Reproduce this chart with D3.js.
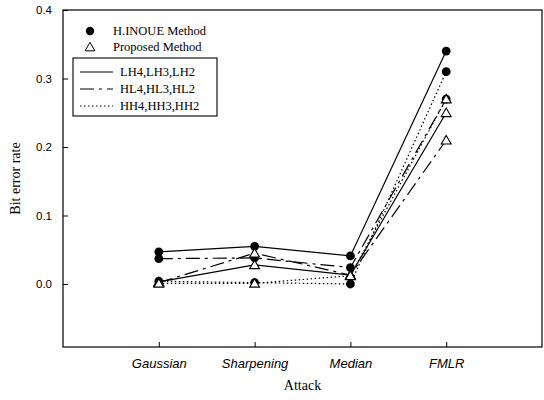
<!DOCTYPE html>
<html>
<head>
<meta charset="utf-8">
<script src="https://cdn.jsdelivr.net/npm/d3@7"></script>
<style>
  body { margin: 0; background: #fff; }
  svg { display: block; }
</style>
</head>
<body>
<div id="chart"></div>
<script>
// categories and tick labels
const attacks = ["Gaussian", "Sharpening", "Median", "FMLR"];
const yTicks = [0.0, 0.1, 0.2, 0.3, 0.4];

// bit error rates
const inoueLH = [0.047, 0.055, 0.041, 0.34];
const inoueHL = [0.037, 0.038, 0.024, 0.27];
const inoueHH = [0.004, 0.002, 0.000, 0.31];
const propLH = [0.003, 0.028, 0.013, 0.25];
const propHL = [0.002, 0.045, 0.013, 0.21];
const propHH = [0.001, 0.001, 0.012, 0.27];

const series = [
    { values: inoueLH, band: "LH", method: "inoue" },
    { values: inoueHL, band: "HL", method: "inoue" },
    { values: inoueHH, band: "HH", method: "inoue" },
    { values: propLH, band: "LH", method: "proposed" },
    { values: propHL, band: "HL", method: "proposed" },
    { values: propHH, band: "HH", method: "proposed" }
];

const dashes = { LH: null, HL: "14,5,3,5", HH: "1.5,2.5" };

const width = 544, height = 400;
const margin = { top: 10, right: 2, bottom: 53, left: 63 };

const svg = d3.select("#chart")
    .append("svg")
        .attr("width", width)
        .attr("height", height);

const x = d3.scalePoint()
    .domain(attacks)
    .range([margin.left, width - margin.right])
    .padding(1);

const y = d3.scaleLinear()
    .domain([-0.092, 0.4])
    .range([height - margin.bottom, margin.top]);

// frame
svg.append("rect")
    .attr("x", margin.left)
    .attr("y", margin.top)
    .attr("width", width - margin.right - margin.left)
    .attr("height", height - margin.bottom - margin.top)
    .attr("fill", "none")
    .attr("stroke", "#000")
    .attr("stroke-width", 1.2);

// y axis, ticks pointing inward
svg.append("g")
    .attr("transform", `translate(${margin.left},0)`)
    .call(d3.axisLeft(y).tickValues(yTicks).tickSize(-5).tickPadding(11).tickFormat(d3.format(".1f")))
    .call(g => g.select(".domain").remove())
    .call(g => g.selectAll("text")
        .attr("font-family", "Liberation Sans, Arial, sans-serif")
        .attr("font-size", 11.5)
        .attr("fill", "#000"));

// x axis
svg.append("g")
    .attr("transform", `translate(0,${height - margin.bottom})`)
    .call(d3.axisBottom(x).tickSize(-5).tickPadding(12))
    .call(g => g.select(".domain").remove())
    .call(g => g.selectAll("text")
        .attr("font-family", "Liberation Sans, Arial, sans-serif")
        .attr("font-style", "italic")
        .attr("font-size", 13)
        .attr("fill", "#000"));

// axis titles
svg.append("text")
    .attr("transform", `translate(20,${(margin.top + height - margin.bottom) / 2}) rotate(-90)`)
    .attr("text-anchor", "middle")
    .attr("font-family", "Liberation Serif, Times New Roman, serif")
    .attr("font-size", 14)
    .text("Bit error rate");

svg.append("text")
    .attr("x", (margin.left + width - margin.right) / 2)
    .attr("y", 390)
    .attr("text-anchor", "middle")
    .attr("font-family", "Liberation Serif, Times New Roman, serif")
    .attr("font-size", 14)
    .text("Attack");

// lines
const line = d3.line()
    .x((d, i) => x(attacks[i]))
    .y(d => y(d));

svg.selectAll(".series")
    .data(series)
    .enter()
    .append("path")
        .attr("class", "series")
        .attr("d", d => line(d.values))
        .attr("fill", "none")
        .attr("stroke", "#000")
        .attr("stroke-width", 1.2)
        .attr("stroke-dasharray", d => dashes[d.band]);

// markers
const triangle = d3.symbol().type(d3.symbolTriangle).size(42);

series.forEach(s => {
    const g = svg.append("g");
    s.values.forEach((v, i) => {
        if (s.method === "inoue") {
            g.append("circle")
                .attr("cx", x(attacks[i]))
                .attr("cy", y(v))
                .attr("r", 4.4)
                .attr("fill", "#000");
        } else {
            g.append("path")
                .attr("d", triangle)
                .attr("transform", `translate(${x(attacks[i])},${y(v) + 1})`)
                .attr("fill", "#fff")
                .attr("stroke", "#000")
                .attr("stroke-width", 1.1);
        }
    });
});

// legend: markers
const legFont = "Liberation Serif, Times New Roman, serif";
svg.append("circle")
    .attr("cx", 90).attr("cy", 31).attr("r", 4.2)
    .attr("fill", "#000");
svg.append("text")
    .attr("x", 113).attr("y", 35)
    .attr("font-family", legFont).attr("font-size", 12.5)
    .text("H.INOUE Method");
svg.append("path")
    .attr("d", triangle)
    .attr("transform", "translate(90,48)")
    .attr("fill", "#fff").attr("stroke", "#000").attr("stroke-width", 1);
svg.append("text")
    .attr("x", 113).attr("y", 51)
    .attr("font-family", legFont).attr("font-size", 12.5)
    .text("Proposed Method");

// legend: line styles
const legendLines = [
    { band: "LH", label: "LH4,LH3,LH2" },
    { band: "HL", label: "HL4,HL3,HL2" },
    { band: "HH", label: "HH4,HH3,HH2" }
];

svg.append("rect")
    .attr("x", 73).attr("y", 58)
    .attr("width", 144).attr("height", 58)
    .attr("fill", "#fff")
    .attr("stroke", "#000")
    .attr("stroke-width", 1.1);

legendLines.forEach((d, i) => {
    const ly = 72 + i * 17;
    svg.append("line")
        .attr("x1", 80).attr("x2", 113)
        .attr("y1", ly).attr("y2", ly)
        .attr("stroke", "#000")
        .attr("stroke-width", 1.2)
        .attr("stroke-dasharray", dashes[d.band]);
    svg.append("text")
        .attr("x", 120).attr("y", ly + 4)
        .attr("font-family", legFont).attr("font-size", 12.5)
        .text(d.label);
});
</script>
</body>
</html>
